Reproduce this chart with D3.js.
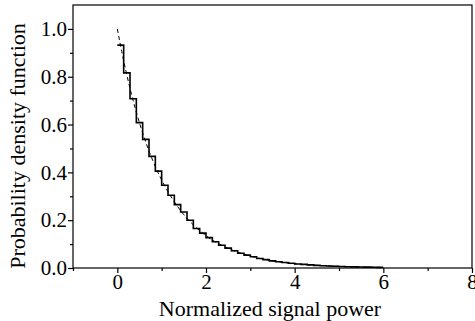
<!DOCTYPE html>
<html><head><meta charset="utf-8">
<script src="https://cdn.jsdelivr.net/npm/d3@7"></script>
</head><body style="margin:0;background:#fff"><svg id="c" width="475" height="321" style="font-family:'Liberation Serif',Tinos,'Times New Roman',monospace"></svg>
<script>
// Histogram: bin width 1/7, from 0 to 6
const binWidth = 1/7;
const histValues = [0.932,0.816,0.708,0.608,0.538,0.467,0.405,0.346,0.304,0.265,0.234,0.200,0.165,0.146,
  0.127,0.110,0.095,0.083,0.072,0.062,0.054,0.047,0.040,0.035,0.030,0.026,0.023,0.020,0.017,0.015,
  0.013,0.011,0.0096,0.0083,0.0072,0.0063,0.0054,0.0047,0.0041,0.0035,0.0031,0.0027];
// Theoretical curve (dashed)
const curveX = [0,0.1,0.2,0.3,0.4,0.5,0.6,0.8,1.0,1.25,1.5,1.75,2,2.5,3,3.5,4,4.5,5,5.5,6];
const curveY = [1.0,0.905,0.819,0.741,0.670,0.607,0.549,0.449,0.368,0.287,0.223,0.174,0.135,0.082,0.050,0.030,0.018,0.011,0.0067,0.0041,0.0025];
const xTicks = [0,2,4,6,8];
const xMinor = [-1,1,3,5,7];
const yTicks = [0,0.2,0.4,0.6,0.8,1.0];
const yMinor = [0.1,0.3,0.5,0.7,0.9];
const xLabel = "Normalized signal power";
const yLabel = "Probability density function";

const svg = d3.select("#c");
const L = 73, R = 472, T = 5, B = 268;
const x = d3.scaleLinear().domain([-1, 8]).range([L, R]);
const y = d3.scaleLinear().domain([0, 1.1]).range([B, T]);
const TXT = "font-family:'Liberation Serif',Tinos,'Times New Roman',monospace;";

// frame
svg.append("rect").attr("x", L).attr("y", T).attr("width", R - L).attr("height", B - T)
  .attr("fill", "none").attr("stroke", "#000").attr("stroke-width", 1.2);

function styleAxis(g) {
  g.select(".domain").remove();
  g.attr("font-family", null).attr("font-size", null);
  g.selectAll("line").attr("stroke", "#000").attr("stroke-width", 1.2);
  g.selectAll("text").attr("style", TXT + "font-size:21px").attr("fill", "#000");
}
const xAx = svg.append("g").attr("transform", `translate(0,${B})`)
  .call(d3.axisBottom(x).tickValues(xTicks).tickFormat(d3.format("d")).tickSize(5).tickSizeOuter(0)).call(styleAxis);
svg.append("g").attr("transform", `translate(0,${B})`)
  .call(d3.axisBottom(x).tickValues(xMinor).tickFormat("").tickSize(3).tickSizeOuter(0)).call(styleAxis);
const yAx = svg.append("g").attr("transform", `translate(${L},0)`)
  .call(d3.axisLeft(y).tickValues(yTicks).tickFormat(d3.format(".1f")).tickSize(5).tickSizeOuter(0)).call(styleAxis);
svg.append("g").attr("transform", `translate(${L},0)`)
  .call(d3.axisLeft(y).tickValues(yMinor).tickFormat("").tickSize(3).tickSizeOuter(0)).call(styleAxis);
xAx.selectAll("text").attr("dy", "0.71em").attr("y", 6);
yAx.selectAll("text").attr("x", -6);

// histogram step line
const histPts = histValues.map((v, i) => ({x0: i * binWidth, v}))
  .concat([{x0: histValues.length * binWidth, v: histValues[histValues.length - 1]}]);
svg.append("path")
  .attr("fill", "none").attr("stroke", "#000").attr("stroke-width", 1.6)
  .attr("d", d3.line().x(d => x(d.x0)).y(d => y(d.v)).curve(d3.curveStepAfter)(histPts));

// dashed curve
svg.append("path")
  .attr("fill", "none").attr("stroke", "#000").attr("stroke-width", 1).attr("stroke-dasharray", "4,3")
  .attr("d", d3.line().x(d => x(d[0])).y(d => y(d[1])).curve(d3.curveMonotoneX)(curveX.map((d, i) => [d, curveY[i]])));

// labels
svg.append("text").attr("x", 270).attr("y", 316).attr("text-anchor", "middle")
  .attr("style", TXT + "font-size:22px").text(xLabel);
svg.append("text").attr("transform", `translate(25,146) rotate(-90)`).attr("text-anchor", "middle")
  .attr("style", TXT + "font-size:22px").text(yLabel);
</script></body></html>
